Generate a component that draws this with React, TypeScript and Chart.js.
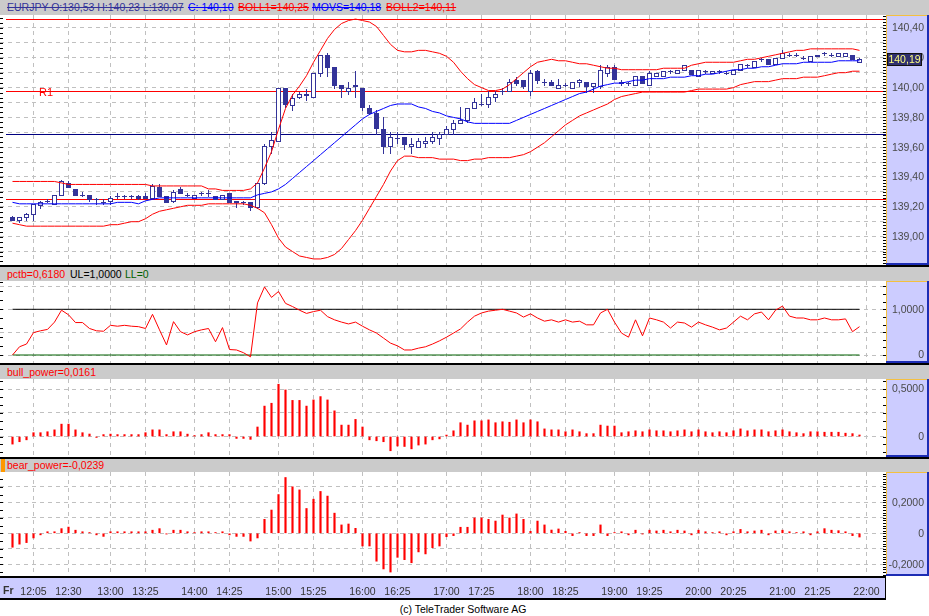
import React, { useEffect, useRef } from "react";
import { Chart, registerables } from "chart.js";

Chart.register(...registerables);

// ---- data -------------------------------------------------------------
// 5-minute bars, first bar at 11:50
const firstBar = "11:50";
const barMinutes = 5;
const timeLabels = [
  "12:05", "12:30", "13:00", "13:25", "14:00", "14:25", "15:00", "15:25",
  "16:00", "16:25", "17:00", "17:25", "18:00", "18:25", "19:00", "19:25",
  "20:00", "20:25", "21:00", "21:25", "22:00",
];

const openPx = [
  139.13, 139.11, 139.13, 139.15, 139.21, 139.24, 139.22, 139.28, 139.36, 139.32,
  139.28, 139.28, 139.25, 139.23, 139.24, 139.27, 139.27, 139.27, 139.27, 139.27,
  139.26, 139.33, 139.27, 139.24, 139.32, 139.28, 139.26, 139.29, 139.29, 139.27,
  139.25, 139.29, 139.24, 139.23, 139.23, 139.2, 139.36, 139.61, 139.64, 140.0,
  139.88, 139.94, 139.96, 139.94, 140.1, 140.22, 140.14, 140.02, 139.98, 140.02,
  140.0, 139.86, 139.83, 139.72, 139.61, 139.66, 139.67, 139.61, 139.6, 139.63,
  139.64, 139.66, 139.69, 139.72, 139.76, 139.78, 139.86, 139.89, 139.89, 139.94,
  139.98, 139.98, 140.05, 140.05, 139.98, 140.11, 140.04, 140.04, 140.0, 140.02,
  140.0, 140.04, 140.04, 140.01, 140.01, 140.1, 140.14, 140.04, 140.03, 140.02,
  140.08, 140.02, 140.08, 140.08, 140.11, 140.1, 140.12, 140.12, 140.08, 140.11,
  140.1, 140.11, 140.1, 140.09, 140.12, 140.15, 140.14, 140.19, 140.19, 140.16,
  140.2, 140.22, 140.22, 140.2, 140.18, 140.21, 140.23, 140.22, 140.21, 140.21,
  140.22, 140.17,
];
const highPx = [
  139.14, 139.13, 139.16, 139.22, 139.24, 139.25, 139.28, 139.38, 139.37, 139.32,
  139.3, 139.28, 139.26, 139.25, 139.27, 139.29, 139.28, 139.28, 139.28, 139.29,
  139.35, 139.35, 139.27, 139.31, 139.33, 139.29, 139.28, 139.3, 139.31, 139.27,
  139.28, 139.29, 139.24, 139.24, 139.23, 139.36, 139.62, 139.7, 140.0, 140.0,
  139.96, 139.97, 139.99, 140.1, 140.22, 140.23, 140.14, 140.02, 140.04, 140.11,
  140.0, 139.88, 139.85, 139.8, 139.7, 139.7, 139.67, 139.66, 139.66, 139.67,
  139.7, 139.7, 139.74, 139.78, 139.87, 139.86, 139.93, 139.96, 139.98, 139.98,
  140.0, 140.06, 140.07, 140.05, 140.12, 140.12, 140.06, 140.05, 140.06, 140.03,
  140.04, 140.06, 140.04, 140.03, 140.15, 140.15, 140.15, 140.05, 140.04, 140.08,
  140.08, 140.11, 140.1, 140.11, 140.12, 140.12, 140.15, 140.12, 140.12, 140.12,
  140.11, 140.12, 140.11, 140.12, 140.16, 140.16, 140.18, 140.2, 140.19, 140.2,
  140.25, 140.23, 140.23, 140.21, 140.21, 140.22, 140.24, 140.23, 140.23, 140.23,
  140.22, 140.2,
];
const lowPx = [
  139.11, 139.1, 139.11, 139.11, 139.19, 139.23, 139.22, 139.28, 139.33, 139.28,
  139.27, 139.24, 139.22, 139.22, 139.22, 139.26, 139.26, 139.26, 139.25, 139.26,
  139.26, 139.27, 139.23, 139.23, 139.29, 139.27, 139.26, 139.28, 139.27, 139.25,
  139.25, 139.23, 139.2, 139.22, 139.18, 139.19, 139.35, 139.56, 139.64, 139.87,
  139.85, 139.93, 139.92, 139.94, 140.08, 140.08, 140.0, 139.94, 139.96, 139.94,
  139.85, 139.82, 139.69, 139.56, 139.56, 139.63, 139.59, 139.56, 139.6, 139.6,
  139.63, 139.62, 139.69, 139.69, 139.76, 139.77, 139.86, 139.88, 139.87, 139.91,
  139.96, 139.98, 140.02, 140.0, 139.95, 140.03, 140.02, 140.02, 140.0, 140.01,
  140.0, 140.01, 139.97, 139.97, 140.0, 140.08, 140.06, 140.02, 140.02, 140.02,
  140.03, 140.02, 140.08, 140.08, 140.1, 140.1, 140.12, 140.09, 140.08, 140.1,
  140.1, 140.1, 140.09, 140.09, 140.12, 140.14, 140.14, 140.18, 140.16, 140.16,
  140.2, 140.21, 140.21, 140.19, 140.18, 140.21, 140.22, 140.21, 140.21, 140.21,
  140.19, 140.17,
];
const closePx = [
  139.11, 139.13, 139.15, 139.22, 139.23, 139.24, 139.28, 139.37, 139.33, 139.28,
  139.28, 139.25, 139.25, 139.23, 139.26, 139.27, 139.27, 139.27, 139.26, 139.26,
  139.34, 139.27, 139.23, 139.3, 139.29, 139.28, 139.28, 139.29, 139.29, 139.25,
  139.28, 139.23, 139.23, 139.23, 139.2, 139.36, 139.61, 139.65, 140.0, 139.89,
  139.93, 139.96, 139.95, 140.1, 140.22, 140.14, 140.02, 140.0, 140.0, 140.01,
  139.87, 139.83, 139.73, 139.61, 139.67, 139.66, 139.62, 139.62, 139.64, 139.64,
  139.67, 139.69, 139.72, 139.76, 139.78, 139.86, 139.9, 139.89, 139.94, 139.96,
  139.98, 140.04, 140.03, 140.01, 140.1, 140.05, 140.04, 140.02, 140.02, 140.02,
  140.04, 140.05, 140.01, 140.03, 140.12, 140.14, 140.06, 140.03, 140.03, 140.08,
  140.03, 140.1, 140.1, 140.11, 140.11, 140.12, 140.15, 140.09, 140.12, 140.11,
  140.11, 140.11, 140.1, 140.12, 140.16, 140.15, 140.18, 140.19, 140.16, 140.2,
  140.23, 140.22, 140.22, 140.2, 140.21, 140.22, 140.23, 140.22, 140.23, 140.23,
  140.19, 140.19,
];

// Bollinger upper (BOLL1), moving average (MOVS), lower (BOLL2)
const boll1 = [
  139.37, 139.37, 139.37, 139.37, 139.37, 139.37, 139.37, 139.36, 139.35, 139.35,
  139.35, 139.35, 139.35, 139.35, 139.35, 139.35, 139.35, 139.35, 139.35, 139.35,
  139.34, 139.34, 139.34, 139.34, 139.34, 139.34, 139.34, 139.34, 139.32, 139.32,
  139.31, 139.31, 139.31, 139.31, 139.32, 139.36, 139.46, 139.57, 139.72, 139.86,
  139.95, 140.01, 140.08, 140.17, 140.25, 140.33, 140.39, 140.43, 140.45, 140.46,
  140.45, 140.44, 140.41, 140.35, 140.29, 140.25, 140.24, 140.24, 140.25, 140.25,
  140.24, 140.23, 140.21, 140.17, 140.11, 140.06, 140.02, 140.0, 139.98, 139.98,
  139.99, 140.02, 140.06, 140.1, 140.14, 140.17, 140.18, 140.19, 140.18, 140.18,
  140.17, 140.16, 140.16, 140.15, 140.14, 140.13, 140.13, 140.12, 140.12, 140.12,
  140.12, 140.12, 140.12, 140.13, 140.13, 140.13, 140.13, 140.15, 140.16, 140.17,
  140.17, 140.17, 140.17, 140.17, 140.18, 140.19, 140.19, 140.2, 140.21, 140.22,
  140.23, 140.24, 140.25, 140.25, 140.26, 140.26, 140.26, 140.26, 140.26, 140.26,
  140.26, 140.25,
];
const movs = [
  139.23, 139.22, 139.22, 139.22, 139.22, 139.22, 139.22, 139.22, 139.22, 139.22,
  139.22, 139.22, 139.22, 139.22, 139.22, 139.23, 139.23, 139.23, 139.22, 139.24,
  139.25, 139.26, 139.26, 139.26, 139.26, 139.26, 139.26, 139.26, 139.26, 139.26,
  139.26, 139.26, 139.26, 139.26, 139.26, 139.28, 139.29, 139.3, 139.32, 139.35,
  139.39, 139.43, 139.47, 139.51, 139.55, 139.59, 139.63, 139.67, 139.71, 139.75,
  139.79, 139.82, 139.84, 139.86, 139.88, 139.89, 139.89, 139.89, 139.87, 139.86,
  139.84, 139.83, 139.81, 139.8, 139.79, 139.77, 139.76, 139.76, 139.76, 139.76,
  139.76, 139.76, 139.78, 139.8, 139.82, 139.84, 139.86, 139.88, 139.9, 139.92,
  139.94, 139.96, 139.97, 139.99, 140.01, 140.02, 140.03, 140.03, 140.04, 140.05,
  140.05, 140.06, 140.06, 140.06, 140.07, 140.07, 140.07, 140.08, 140.08, 140.09,
  140.09, 140.1, 140.11, 140.12, 140.12, 140.13, 140.13, 140.14, 140.14, 140.15,
  140.16, 140.16, 140.16, 140.17, 140.17, 140.17, 140.17, 140.17, 140.18, 140.18,
  140.18, 140.18,
];
const boll2 = [
  139.09, 139.08, 139.07, 139.07, 139.07, 139.07, 139.07, 139.07, 139.07, 139.07,
  139.07, 139.07, 139.07, 139.07, 139.08, 139.08, 139.09, 139.1, 139.1, 139.12,
  139.15, 139.17, 139.18, 139.19, 139.2, 139.21, 139.21, 139.21, 139.22, 139.22,
  139.22, 139.22, 139.22, 139.22, 139.21, 139.19, 139.16, 139.08, 138.99, 138.93,
  138.9, 138.87, 138.86, 138.85, 138.85, 138.86, 138.88, 138.92, 138.98, 139.04,
  139.11, 139.19, 139.27, 139.35, 139.44, 139.51, 139.54, 139.54, 139.53, 139.53,
  139.53, 139.52, 139.52, 139.52, 139.51, 139.51, 139.52, 139.52, 139.53, 139.53,
  139.53, 139.53, 139.54, 139.55, 139.57, 139.6, 139.63, 139.67, 139.71, 139.75,
  139.78, 139.81, 139.83, 139.85, 139.87, 139.89, 139.92, 139.94, 139.95, 139.96,
  139.97, 139.97, 139.97, 139.97, 139.97, 139.97, 139.97, 139.98, 139.99, 139.99,
  139.99, 139.99, 139.99, 140.0, 140.02, 140.03, 140.04, 140.04, 140.04, 140.05,
  140.06, 140.06, 140.06, 140.07, 140.07, 140.07, 140.08, 140.09, 140.1, 140.1,
  140.11, 140.11,
];

// pivot lines in the price panel
const pivotLevels = [140.46, 139.98, 139.69, 139.25];
const pivotNames = ["", "R1", "", ""];
const pivotColors = ["#ff0000", "#ff0000", "#000080", "#ff0000"];

const pctb = [
  0.0, 0.18, 0.24, 0.49, 0.53, 0.56, 0.72, 0.98, 0.88, 0.71,
  0.71, 0.58, 0.53, 0.52, 0.65, 0.63, 0.65, 0.63, 0.62, 0.58,
  0.89, 0.55, 0.22, 0.73, 0.51, 0.44, 0.51, 0.55, 0.58, 0.29,
  0.6, 0.12, 0.11, 0.05, -0.04, 1.14, 1.49, 1.26, 1.39, 1.13,
  1.06, 0.98, 0.91, 0.95, 0.98, 0.84, 0.77, 0.72, 0.68, 0.72,
  0.63, 0.55, 0.48, 0.37, 0.26, 0.2, 0.11, 0.11, 0.15, 0.18,
  0.24, 0.31, 0.39, 0.48, 0.57, 0.72, 0.85, 0.92, 0.96, 0.98,
  1.0, 0.96, 0.92, 0.83, 0.9, 0.81, 0.74, 0.77, 0.72, 0.77,
  0.72, 0.74, 0.66, 0.66, 0.92, 1.0, 0.72, 0.48, 0.39, 0.77,
  0.42, 0.81, 0.77, 0.72, 0.59, 0.72, 0.7, 0.61, 0.72, 0.66,
  0.61, 0.55, 0.59, 0.72, 0.85, 0.77, 0.9, 0.94, 0.77, 0.98,
  1.07, 0.85, 0.81, 0.81, 0.77, 0.77, 0.81, 0.77, 0.77, 0.79,
  0.51, 0.62,
];
const pctbUL = 1;
const pctbLL = 0;

const bullPower = [
  -0.08, -0.055, -0.035, 0.04, 0.04, 0.05, 0.07, 0.13, 0.13, 0.07,
  0.04, 0.026, -0.01, 0.02, 0.025, 0.02, 0.02, 0.02, 0.02, 0.04,
  0.07, 0.07, 0.02, 0.05, 0.05, 0.025, 0.01, 0.02, 0.04, 0.02,
  0.02, 0.02, -0.02, -0.02, -0.03, 0.1, 0.32, 0.35, 0.55, 0.49,
  0.38, 0.38, 0.32, 0.385, 0.42, 0.385, 0.27, 0.12, 0.12, 0.18,
  0.1, -0.035, -0.045, -0.055, -0.15, -0.1, -0.105, -0.13, -0.09, -0.08,
  -0.035, -0.025, 0.015, 0.06, 0.145, 0.12, 0.165, 0.165, 0.175, 0.145,
  0.155, 0.15, 0.175, 0.145, 0.175, 0.155, 0.08, 0.07, 0.07, 0.05,
  0.07, 0.05, 0.03, 0.03, 0.12, 0.11, 0.11, 0.04, 0.05, 0.06,
  0.05, 0.07, 0.06, 0.06, 0.05, 0.06, 0.07, 0.05, 0.07, 0.05,
  0.04, 0.05, 0.04, 0.06, 0.08, 0.06, 0.07, 0.07, 0.05, 0.06,
  0.07, 0.05, 0.04, 0.03, 0.05, 0.05, 0.045, 0.045, 0.045, 0.035,
  0.03, 0.016,
];
const bearPower = [
  -0.09, -0.07, -0.06, -0.03, -0.01, 0.01, 0.01, 0.03, 0.04, 0.02,
  0.01, 0.005, -0.01, -0.02, 0.01, 0.01, 0.01, 0.01, 0.01, 0.01,
  0.02, 0.03, -0.005, 0.02, 0.02, 0.01, 0.005, 0.01, 0.01, 0.005,
  0.01, -0.01, -0.02, -0.02, -0.05, -0.03, 0.09, 0.15, 0.25, 0.36,
  0.3, 0.28, 0.16, 0.22, 0.27, 0.24, 0.13, 0.054, 0.06, 0.032,
  -0.082, -0.082, -0.18, -0.23, -0.25, -0.155, -0.17, -0.19, -0.12, -0.133,
  -0.093, -0.082, -0.022, -0.015, 0.039, 0.039, 0.099, 0.099, 0.09, 0.079,
  0.118, 0.099, 0.125, 0.09, 0.013, 0.079, 0.054, 0.021, 0.028, 0.013,
  -0.015, 0.005, -0.015, -0.015, 0.054, -0.015, 0.005, 0.01, -0.01, 0.02,
  -0.005, 0.02, 0.015, 0.02, 0.01, 0.02, 0.015, -0.01, 0.02, 0.01,
  0.005, 0.01, -0.01, 0.01, 0.025, 0.01, 0.015, 0.02, -0.01, 0.015,
  0.02, 0.01, 0.005, 0.01, -0.01, 0.01, 0.03, 0.02, 0.017, 0.01,
  -0.015, -0.024,
];

// axis grid / label values
const priceGrid = [138.9, 139.0, 139.1, 139.2, 139.3, 139.4, 139.5, 139.6, 139.7, 139.8, 139.9, 140.0, 140.1, 140.2, 140.3, 140.4];
const priceLabels = [139.0, 139.2, 139.4, 139.6, 139.8, 140.0, 140.2, 140.4];
const pctbGrid = [0, 0.5, 1, 1.5];
const pctbLabels = [0, 1];
const bullGrid = [0, 0.25, 0.5];
const bullLabels = [0, 0.5];
const bearGrid = [-0.2, -0.1, 0, 0.1, 0.2, 0.3];
const bearLabels = [-0.2, 0, 0.2];

// ---- styling --------------------------------------------------------------
const FONT = "'Liberation Sans', Arial, sans-serif";
const NAVY = "#333399";
const AXIS_BG = "#ccccff";
const GRID = "#c0c0c0";
const PLOT_W = 886; // plot area width, right axis is 43px

const toMin = (t: string) => {
  const [h, m] = t.split(":").map(Number);
  return h * 60 + m;
};
const tickIndex = timeLabels.map((t) => (toMin(t) - toMin(firstBar)) / barMinutes);
const X_MIN = -12.5 / 7;
const X_MAX = X_MIN + PLOT_W / 7;

const fmtPrice = (v: number) => v.toFixed(2).replace(".", ",");
const fmtInd = (v: number) => (Math.abs(v) < 1e-9 ? "0" : v.toFixed(4).replace(".", ","));
const pts = (arr: number[]) => arr.map((v, i) => ({ x: i, y: v }));

function xScale(showLabels: boolean): any {
  return {
    type: "linear",
    min: X_MIN,
    max: X_MAX,
    offset: false,
    afterBuildTicks: (s: any) => {
      s.ticks = tickIndex.map((v) => ({ value: v }));
    },
    grid: { color: GRID, drawTicks: false, offset: false },
    border: { display: false, dash: [4, 4] },
    ticks: {
      display: showLabels,
      autoSkip: false,
      maxRotation: 0,
      padding: 10,
      color: "#333",
      font: { family: FONT, size: 10.5 },
      callback: (_v: any, i: number) => timeLabels[i],
    },
    afterFit: showLabels
      ? (s: any) => {
          s.height = 24;
        }
      : undefined,
  };
}

function yScale(min: number, max: number, grid: number[]): any {
  return {
    type: "linear",
    position: "right",
    min,
    max,
    afterBuildTicks: (s: any) => {
      s.ticks = grid.map((v) => ({ value: v }));
    },
    grid: { color: GRID, drawTicks: false },
    border: { display: false, dash: [4, 4] },
    ticks: { display: false },
    afterFit: (s: any) => {
      s.width = 43;
    },
  };
}

// right-hand axis box, labels and small tick marks
function axisPanel(labels: number[], fmt: (v: number) => string, leftStep: number, rightStep: number) {
  return {
    id: "axisPanel",
    afterDraw(chart: any) {
      const { ctx, chartArea: a, width } = chart;
      const y = chart.scales.y;
      const h = a.bottom - a.top;
      ctx.save();
      ctx.fillStyle = AXIS_BG;
      ctx.fillRect(a.right, a.top, width - a.right, h);
      ctx.fillStyle = "#f4c040";
      ctx.fillRect(a.right, a.top, 1, h);
      ctx.fillRect(a.right, a.top, width - a.right, 1);
      ctx.fillStyle = "#1c2cb4";
      ctx.fillRect(a.right, a.bottom - 2, width - a.right, 2);
      ctx.fillRect(width - 2, a.top, 2, h);

      ctx.strokeStyle = "#000";
      ctx.lineWidth = 1;
      ctx.beginPath();
      for (let k = Math.ceil(y.min / rightStep); k * rightStep <= y.max; k++) {
        const py = Math.round(y.getPixelForValue(k * rightStep)) + 0.5;
        ctx.moveTo(a.right - 3, py);
        ctx.lineTo(a.right, py);
      }
      for (let k = Math.ceil(y.min / leftStep); k * leftStep <= y.max; k++) {
        const py = Math.round(y.getPixelForValue(k * leftStep)) + 0.5;
        ctx.moveTo(a.left, py);
        ctx.lineTo(a.left + 3, py);
      }
      ctx.stroke();

      ctx.fillStyle = "#4a4a4a";
      ctx.font = `10.5px ${FONT}`;
      ctx.textAlign = "right";
      ctx.textBaseline = "middle";
      labels.forEach((v) => ctx.fillText(fmt(v), width - 5, y.getPixelForValue(v) + 0.5));
      ctx.restore();
    },
  };
}

const candlePlugin = {
  id: "candles",
  beforeDatasetsDraw(chart: any) {
    const { ctx, chartArea: a } = chart;
    const { x, y } = chart.scales;
    ctx.save();
    ctx.lineWidth = 1;
    pivotLevels.forEach((lvl, k) => {
      const py = Math.round(y.getPixelForValue(lvl)) + 0.5;
      ctx.strokeStyle = pivotColors[k];
      ctx.beginPath();
      ctx.moveTo(a.left + 6, py);
      ctx.lineTo(a.right, py);
      ctx.stroke();
      if (pivotNames[k]) {
        ctx.fillStyle = pivotColors[k];
        ctx.font = `11px ${FONT}`;
        ctx.textAlign = "left";
        ctx.textBaseline = "middle";
        ctx.fillText(pivotNames[k], a.left + 39, py + 1);
      }
    });

    ctx.strokeStyle = NAVY;
    for (let i = 0; i < openPx.length; i++) {
      const cx = Math.floor(x.getPixelForValue(i)) + 0.5;
      const yo = y.getPixelForValue(openPx[i]);
      const yc = y.getPixelForValue(closePx[i]);
      const yh = Math.round(y.getPixelForValue(highPx[i]));
      const yl = Math.round(y.getPixelForValue(lowPx[i]));
      ctx.beginPath();
      ctx.moveTo(cx, yh);
      ctx.lineTo(cx, yl + 1);
      ctx.stroke();
      const top = Math.round(Math.min(yo, yc));
      const bot = Math.round(Math.max(yo, yc));
      if (openPx[i] === closePx[i] || bot === top) {
        ctx.beginPath();
        ctx.moveTo(cx - 2.5, top + 0.5);
        ctx.lineTo(cx + 2.5, top + 0.5);
        ctx.stroke();
      } else if (closePx[i] > openPx[i]) {
        ctx.fillStyle = "#fff";
        ctx.fillRect(cx - 2.5, top, 5, bot - top + 1);
        ctx.strokeRect(cx - 2, top + 0.5, 4, bot - top);
      } else {
        ctx.fillStyle = NAVY;
        ctx.fillRect(cx - 2.5, top, 5, bot - top + 1);
      }
    }
    ctx.restore();
  },
};

const priceTagPlugin = {
  id: "priceTag",
  afterDraw(chart: any) {
    const { ctx, chartArea: a, width } = chart;
    const last = closePx[closePx.length - 1];
    const py = Math.round(chart.scales.y.getPixelForValue(last));
    ctx.save();
    ctx.fillStyle = "#30306e";
    ctx.fillRect(a.right + 1, py - 6, width - a.right - 8, 13);
    ctx.strokeStyle = "#111";
    ctx.strokeRect(a.right + 1.5, py - 5.5, width - a.right - 9, 12);
    ctx.fillStyle = "#ffff80";
    ctx.font = `10.5px ${FONT}`;
    ctx.textAlign = "center";
    ctx.textBaseline = "middle";
    ctx.fillText(fmtPrice(last), a.right + 1 + (width - a.right - 8) / 2, py + 1);
    ctx.restore();
  },
};

const timeBarPlugin = {
  id: "timeBar",
  beforeDraw(chart: any) {
    const { ctx, chartArea: a, height } = chart;
    ctx.save();
    ctx.fillStyle = "#000";
    ctx.fillRect(0, a.bottom, a.right, 2);
    ctx.fillStyle = AXIS_BG;
    ctx.fillRect(0, a.bottom + 2, a.right - 1, height - a.bottom - 4);
    ctx.fillStyle = "#000";
    ctx.fillRect(0, height - 2, a.right, 2);
    ctx.fillRect(a.right - 1, a.bottom, 1, height - a.bottom);
    ctx.fillStyle = "#333";
    ctx.font = `bold 10.5px ${FONT}`;
    ctx.textAlign = "left";
    ctx.textBaseline = "middle";
    ctx.fillText("Fr", 3, a.bottom + 15);
    ctx.restore();
  },
};

const baseOptions = {
  animation: false,
  responsive: false,
  maintainAspectRatio: false,
  events: [],
  layout: { padding: 0 },
  plugins: { legend: { display: false }, tooltip: { enabled: false } },
};

const line = (data: number[], color: string) => ({
  data: pts(data),
  borderColor: color,
  borderWidth: 1,
  pointRadius: 0,
  tension: 0,
  fill: false,
});

const App: React.FC = () => {
  const priceRef = useRef<HTMLCanvasElement | null>(null);
  const pctbRef = useRef<HTMLCanvasElement | null>(null);
  const bullRef = useRef<HTMLCanvasElement | null>(null);
  const bearRef = useRef<HTMLCanvasElement | null>(null);

  useEffect(() => {
    const charts: Chart[] = [];

    if (priceRef.current) {
      charts.push(
        new Chart(priceRef.current, {
          type: "line",
          data: {
            datasets: [line(movs, "#0000ff"), line(boll1, "#ff0000"), line(boll2, "#ff0000")],
          },
          options: {
            ...baseOptions,
            scales: { x: xScale(false), y: yScale(138.8094, 140.4872, priceGrid) },
          } as any,
          plugins: [candlePlugin, axisPanel(priceLabels, fmtPrice, 1 / 30, 0.02), priceTagPlugin],
        })
      );
    }

    if (pctbRef.current) {
      const last = pctb.length - 1;
      charts.push(
        new Chart(pctbRef.current, {
          type: "line",
          data: {
            datasets: [
              line(pctb, "#ff0000"),
              { ...line([], "#000000"), data: [{ x: 0, y: pctbUL }, { x: last, y: pctbUL }] },
              { ...line([], "#006000"), data: [{ x: 0, y: pctbLL }, { x: last, y: pctbLL }] },
            ],
          },
          options: {
            ...baseOptions,
            scales: { x: xScale(false), y: yScale(-0.175, 1.6193, pctbGrid) },
          } as any,
          plugins: [axisPanel(pctbLabels, fmtInd, 0.2, 1 / 6)],
        })
      );
    }

    const barSet = (data: number[]) => ({
      data: pts(data),
      backgroundColor: "#ff0000",
      borderWidth: 0,
      barThickness: 1.5,
    });

    if (bullRef.current) {
      charts.push(
        new Chart(bullRef.current, {
          type: "bar",
          data: { datasets: [barSet(bullPower)] },
          options: {
            ...baseOptions,
            scales: { x: xScale(false), y: yScale(-0.2158, 0.6053, bullGrid) },
          } as any,
          plugins: [axisPanel(bullLabels, fmtInd, 1 / 12, 1 / 12)],
        })
      );
    }

    if (bearRef.current) {
      charts.push(
        new Chart(bearRef.current, {
          type: "bar",
          data: { datasets: [barSet(bearPower)] },
          options: {
            ...baseOptions,
            scales: { x: xScale(true), y: yScale(-0.2755, 0.3955, bearGrid) },
          } as any,
          plugins: [timeBarPlugin, axisPanel(bearLabels, fmtInd, 0.05, 1 / 60)],
        })
      );
    }

    return () => {
      charts.forEach((c) => c.destroy());
    };
  }, []);

  const abs = (top: number, height: number, extra: React.CSSProperties = {}): React.CSSProperties => ({
    position: "absolute",
    left: 0,
    top,
    width: 929,
    height,
    ...extra,
  });
  const header = (top: number, height: number) =>
    abs(top, height, { background: "#cbcbcb", lineHeight: `${height}px`, overflow: "hidden" });
  const txt = (left: number, color: string, extra: React.CSSProperties = {}): React.CSSProperties => ({
    position: "absolute",
    left,
    top: 0,
    color,
    whiteSpace: "pre",
    ...extra,
  });
  const strike: React.CSSProperties = { textDecoration: "line-through" };

  return (
    <div
      style={{
        position: "absolute",
        left: 0,
        top: 0,
        width: 929,
        height: 616,
        background: "#fff",
        fontFamily: FONT,
        fontSize: "10.5px",
        overflow: "hidden",
      }}
    >
      <div style={header(0, 15)}>
        <span style={txt(7, NAVY, strike)}>EURJPY O:130,53 H:140,23 L:130,07</span>
        <span style={txt(188, "#0000ff", strike)}>C: 140,10</span>
        <span style={txt(238, "#ff0000", strike)}>BOLL1=140,25</span>
        <span style={txt(312, "#0000ff", strike)}>MOVS=140,18</span>
        <span style={txt(386, "#ff0000", strike)}>BOLL2=140,11</span>
      </div>
      <canvas ref={priceRef} width={929} height={250} style={abs(15, 250)} />

      <div style={abs(265, 2, { background: "#000" })} />
      <div style={header(267, 14)}>
        <span style={txt(7, "#ff0000")}>pctb=0,6180</span>
        <span style={txt(70, "#000000")}>UL=1,0000</span>
        <span style={txt(125, "#006000")}>LL=0</span>
      </div>
      <canvas ref={pctbRef} width={929} height={82} style={abs(281, 82)} />

      <div style={abs(363, 2, { background: "#000" })} />
      <div style={header(365, 14)}>
        <span style={txt(7, "#ff0000")}>bull_power=0,0161</span>
      </div>
      <canvas ref={bullRef} width={929} height={78} style={abs(379, 78)} />

      <div style={abs(457, 2, { background: "#000" })} />
      <div style={header(459, 13)}>
        <div style={{ position: "absolute", left: 1, top: 0, width: 4, height: 13, background: "#ff9900" }} />
        <span style={txt(7, "#ff0000")}>bear_power=-0,0239</span>
      </div>
      <canvas ref={bearRef} width={929} height={128} style={abs(472, 128)} />

      <div style={abs(602, 14, { textAlign: "center", lineHeight: "14px", color: "#000", width: 926 })}>
        (c) TeleTrader Software AG
      </div>
    </div>
  );
};

export default App;
